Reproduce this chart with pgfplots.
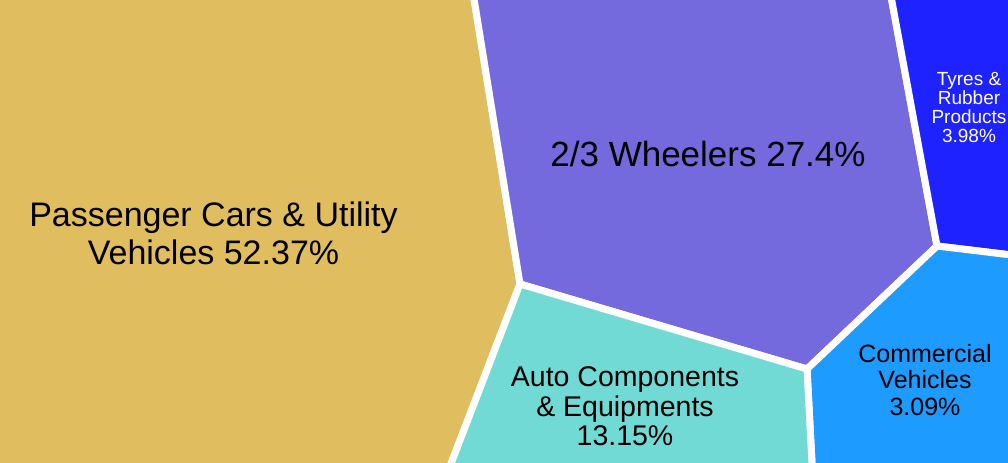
\documentclass[border=0pt]{standalone}
\usepackage{pgfplots}
\pgfplotsset{compat=1.18}
\usepackage{fontspec}
\setmainfont{Liberation Sans}

\definecolor{cars}{HTML}{E0BE60}
\definecolor{wheel}{HTML}{7469DD}
\definecolor{tyres}{HTML}{1E22FF}
\definecolor{comm}{HTML}{1E9BFF}
\definecolor{auto}{HTML}{72DAD4}

% one line of a label, its baseline at y
\newcommand{\lbl}[5]{\node[anchor=base, inner sep=0pt, text=#4,
  font=\fontsize{#5bp}{#5bp}\selectfont] at (axis cs:#1,#2) {#3};}

\begin{document}
\begin{tikzpicture}
\begin{axis}[
  name=ax,
  width=1008bp, height=462bp, scale only axis,
  xmin=0, xmax=1008, ymin=0, ymax=462,
  y dir=reverse,
  hide axis,
  clip=true,
]
% cells of the Voronoi treemap (pixel coordinates, y down)
\addplot[fill=cars, draw=white, line width=7bp]
  coordinates {(-20,-20) (471,-20) (520,284) (444,482) (-20,482)} --cycle;
\addplot[fill=wheel, draw=white, line width=7bp]
  coordinates {(471,-20) (888,-20) (937,246) (807,369) (520,284)} --cycle;
\addplot[fill=tyres, draw=white, line width=7bp]
  coordinates {(888,-20) (1028,-20) (1028,257) (937,246)} --cycle;
\addplot[fill=comm, draw=white, line width=7bp]
  coordinates {(937,246) (1028,257) (1028,482) (813,482) (807,369)} --cycle;
\addplot[fill=auto, draw=white, line width=7bp]
  coordinates {(520,284) (807,369) (813,482) (444,482)} --cycle;

\lbl{213.5}{226.7}{Passenger Cars \& Utility}{black}{34}
\lbl{213.5}{264}{Vehicles 52.37\%}{black}{34}
\lbl{708}{166}{2/3 Wheelers 27.4\%}{black}{35}
\lbl{625}{386.7}{Auto Components}{black}{28.5}
\lbl{625}{416}{\& Equipments}{black}{28.5}
\lbl{625}{445}{13.15\%}{black}{28.5}
\lbl{925}{362.7}{Commercial}{black}{25}
\lbl{925}{388}{Vehicles}{black}{25}
\lbl{925}{415}{3.09\%}{black}{25}
\lbl{969}{85}{Tyres \&}{white}{19}
\lbl{969}{104.3}{Rubber}{white}{19}
\lbl{969}{123.3}{Products}{white}{19}
\lbl{969}{142.7}{3.98\%}{white}{19}
\end{axis}
\pgfresetboundingbox
\path[use as bounding box] (ax.south west) rectangle (ax.north east);
\end{tikzpicture}
\end{document}
